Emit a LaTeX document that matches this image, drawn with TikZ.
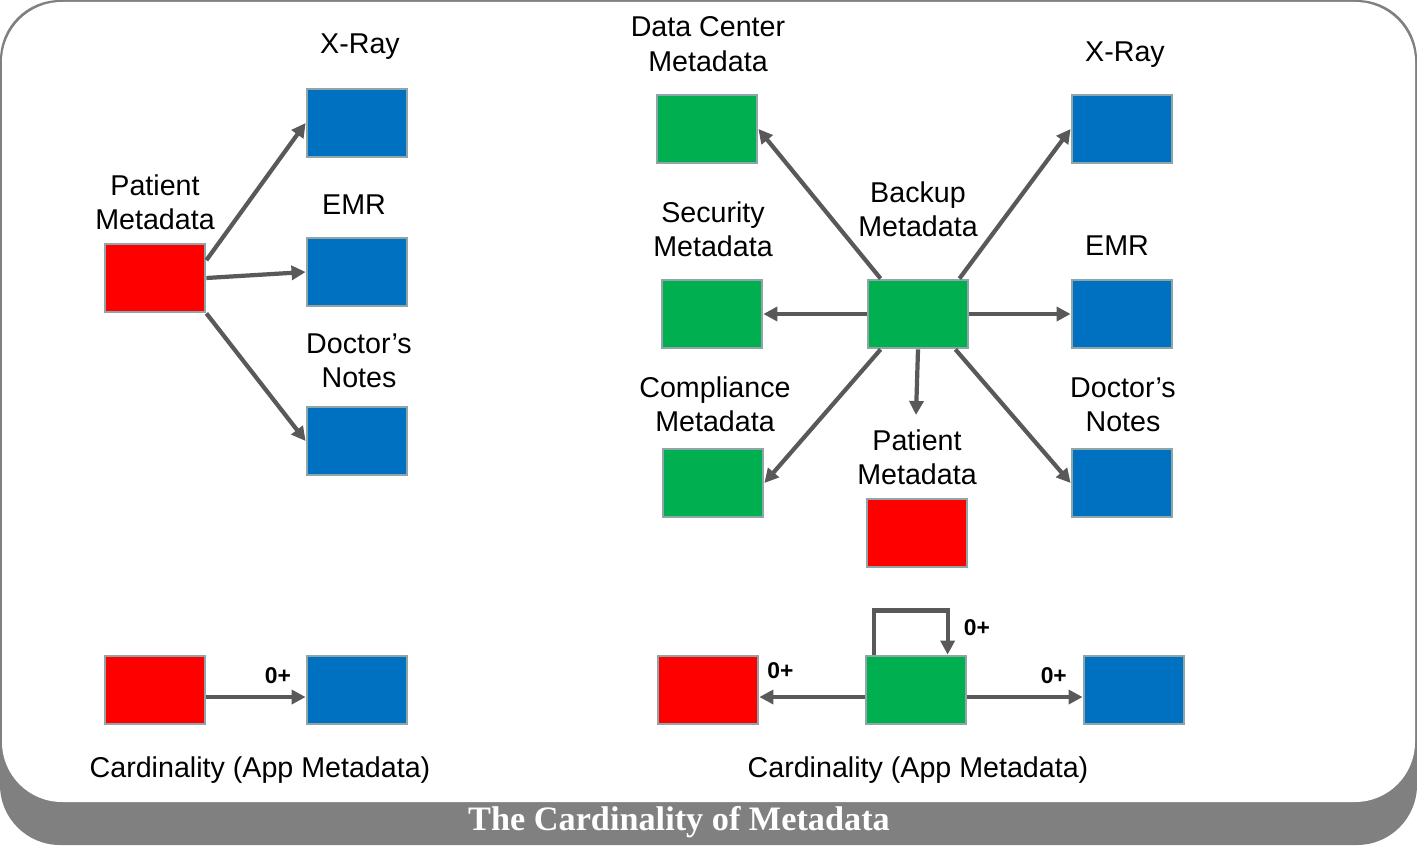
\documentclass[tikz,border=0pt]{standalone}
\usepackage{fontspec}
\setmainfont{Liberation Sans}
\newfontfamily\titlefont{Liberation Serif}
\usetikzlibrary{arrows.meta,positioning}
\definecolor{appred}{HTML}{FF0000}
\definecolor{appblue}{HTML}{0070C0}
\definecolor{appgreen}{HTML}{00B050}
\definecolor{edgegray}{HTML}{8FA5A8}
\definecolor{arrowgray}{HTML}{595959}
\definecolor{bandgray}{HTML}{808080}
\begin{document}
\begin{tikzpicture}[x=0.02cm,y=-0.02cm,>={Triangle[length=8pt,width=8pt]},
    box/.style={draw=edgegray,line width=1.6pt,minimum width=2cm,minimum height=1.36cm,inner sep=0pt},
    red box/.style={box,fill=appred},
    blue box/.style={box,fill=appblue},
    green box/.style={box,fill=appgreen},
    lbl/.style={align=center,font=\fontsize{16.3}{19.6}\selectfont},
    card/.style={font=\bfseries\fontsize{13}{15}\selectfont},
    link/.style={->,draw=arrowgray,line width=2.4pt}]
  \useasboundingbox (0,0) rectangle (1417,855);
  % frame
  \fill[bandgray,rounded corners=1.2cm] (0,0) rectangle (1417,845);
  \fill[white,rounded corners=1.2cm] (2,2) rectangle (1415,802);
  \node[text=white,font=\titlefont\bfseries\fontsize{19.5}{22}\selectfont] (title) at (679,822) {The Cardinality of Metadata};

  % left: patient metadata
  \node[red box]  (lpat) at (155,278) {};
  \node[blue box] (lxr)  at (357,123) {};
  \node[blue box] (lemr) at (357,272) {};
  \node[blue box] (ldoc) at (357,441) {};
  \node[lbl] at (155,202) {Patient\\Metadata};
  \node[lbl] at (360,47)  {X-Ray};
  \node[lbl] at (354,205) {EMR};
  \node[lbl] at (359,361) {Doctor’s\\Notes};
  \draw[link] ([yshift=-10]lpat.north east) -- (lxr.west);
  \draw[link] (lpat.east) -- (lemr.west);
  \draw[link] (lpat.south east) -- (ldoc.west);

  % right: backup metadata
  \node[green box] (bak)  at (918,314) {};
  \node[green box] (dc)   at (707,129) {};
  \node[green box] (sec)  at (712,314) {};
  \node[green box] (comp) at (713,483) {};
  \node[red box]   (rpat) at (917,533) {};
  \node[blue box]  (rxr)  at (1122,129) {};
  \node[blue box]  (remr) at (1122,314) {};
  \node[blue box]  (rdoc) at (1122,483) {};
  \node[lbl] at (708,44)  {Data Center\\Metadata};
  \node[lbl] at (713,229) {Security\\Metadata};
  \node[lbl] at (715,404) {Compliance\\Metadata};
  \node[lbl] at (918,209) {Backup\\Metadata};
  \node[lbl] at (917,457) {Patient\\Metadata};
  \node[lbl] at (1125,55) {X-Ray};
  \node[lbl] at (1117,246) {EMR};
  \node[lbl] at (1123,405) {Doctor’s\\Notes};
  \coordinate (patend) at (916,415);
  \draw[link] (bak.north west) ++(14,0) -- (dc.east);
  \draw[link] (bak.west) -- (sec.east);
  \draw[link] (bak.south west) ++(14,0) -- (comp.east);
  \draw[link] (bak.south) -- (patend);
  \draw[link] (bak.north east) ++(-10,0) -- (rxr.west);
  \draw[link] (bak.east) -- (remr.west);
  \draw[link] (bak.south east) ++(-14,0) -- (rdoc.west);

  % cardinality, left
  \node[red box]  (cpat) at (155,690) {};
  \node[blue box] (cblu) at (357,690) {};
  \draw[link] ([yshift=-4]cpat.east) -- ([yshift=-4]cblu.west) node[card,pos=0.72,above=3pt] {0+};
  \node[lbl] at (260,770) {Cardinality (App Metadata)};

  % cardinality, right
  \node[red box]   (cred) at (708,690) {};
  \node[green box] (cgrn) at (916,690) {};
  \node[blue box]  (cbl2) at (1134,690) {};
  \draw[link] ([yshift=-4]cgrn.west) -- ([yshift=-4]cred.east) node[card,pos=0.8,above=6pt] {0+};
  \draw[link] ([yshift=-4]cgrn.east) -- ([yshift=-4]cbl2.west) node[card,pos=0.75,above=3pt] {0+};
  \draw[link] ([xshift=-24]cgrn.north) -- ++(0,-44) -| ([xshift=18]cgrn.north);
  \node[card] at (977,628) {0+};
  \node[lbl] at (918,770) {Cardinality (App Metadata)};
\end{tikzpicture}
\end{document}
